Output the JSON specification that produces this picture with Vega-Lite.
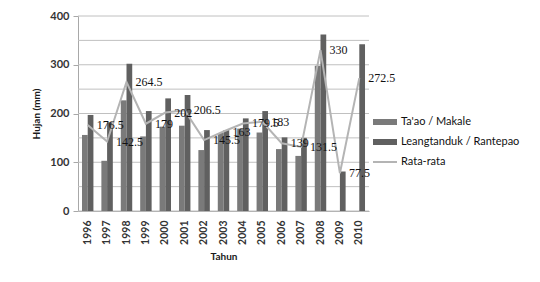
{
  "$schema": "https://vega.github.io/schema/vega-lite/v6.json",
  "width": 291,
  "height": 195,
  "autosize": {"type": "none"},
  "padding": {"left": 78, "top": 16, "right": 171, "bottom": 71},
  "background": "white",
  "config": {
    "view": {"stroke": null},
    "axis": {
      "labelFont": "Lato",
      "labelFontWeight": "bold",
      "labelFontSize": 11,
      "labelColor": "#333333",
      "titleFont": "Lato",
      "titleFontWeight": "bold",
      "titleFontSize": 10,
      "titleColor": "#1a1a1a",
      "domainColor": "#a8a8a8",
      "tickColor": "#a8a8a8",
      "gridColor": "#c0c0c0",
      "labelFlush": false
    },
    "axisY": {"tickCount": 8, "labelOverlap": false}
  },
  "datasets": {
    "grid": [
      {"v": 0}, {"v": 50}, {"v": 100}, {"v": 150}, {"v": 200},
      {"v": 250}, {"v": 300}, {"v": 350}, {"v": 400}
    ],
    "bars": [
      {"year": 1996, "series": "Ta'ao / Makale", "value": 156},
      {"year": 1996, "series": "Leangtanduk / Rantepao", "value": 197},
      {"year": 1997, "series": "Ta'ao / Makale", "value": 103},
      {"year": 1997, "series": "Leangtanduk / Rantepao", "value": 182},
      {"year": 1998, "series": "Ta'ao / Makale", "value": 227},
      {"year": 1998, "series": "Leangtanduk / Rantepao", "value": 302},
      {"year": 1999, "series": "Ta'ao / Makale", "value": 153},
      {"year": 1999, "series": "Leangtanduk / Rantepao", "value": 205},
      {"year": 2000, "series": "Ta'ao / Makale", "value": 173},
      {"year": 2000, "series": "Leangtanduk / Rantepao", "value": 231},
      {"year": 2001, "series": "Ta'ao / Makale", "value": 175},
      {"year": 2001, "series": "Leangtanduk / Rantepao", "value": 238},
      {"year": 2002, "series": "Ta'ao / Makale", "value": 125},
      {"year": 2002, "series": "Leangtanduk / Rantepao", "value": 166},
      {"year": 2003, "series": "Ta'ao / Makale", "value": 160},
      {"year": 2003, "series": "Leangtanduk / Rantepao", "value": 166},
      {"year": 2004, "series": "Ta'ao / Makale", "value": 169},
      {"year": 2004, "series": "Leangtanduk / Rantepao", "value": 190},
      {"year": 2005, "series": "Ta'ao / Makale", "value": 161},
      {"year": 2005, "series": "Leangtanduk / Rantepao", "value": 205},
      {"year": 2006, "series": "Ta'ao / Makale", "value": 127},
      {"year": 2006, "series": "Leangtanduk / Rantepao", "value": 151},
      {"year": 2007, "series": "Ta'ao / Makale", "value": 113},
      {"year": 2007, "series": "Leangtanduk / Rantepao", "value": 150},
      {"year": 2008, "series": "Ta'ao / Makale", "value": 298},
      {"year": 2008, "series": "Leangtanduk / Rantepao", "value": 362},
      {"year": 2009, "series": "Leangtanduk / Rantepao", "value": 81},
      {"year": 2010, "series": "Leangtanduk / Rantepao", "value": 342}
    ],
    "avg": [
      {"year": 1996, "avg": 176.5},
      {"year": 1997, "avg": 142.5},
      {"year": 1998, "avg": 264.5},
      {"year": 1999, "avg": 179},
      {"year": 2000, "avg": 202},
      {"year": 2001, "avg": 206.5},
      {"year": 2002, "avg": 145.5},
      {"year": 2003, "avg": 163},
      {"year": 2004, "avg": 179.5},
      {"year": 2005, "avg": 183},
      {"year": 2006, "avg": 139},
      {"year": 2007, "avg": 131.5},
      {"year": 2008, "avg": 330},
      {"year": 2009, "avg": 77.5},
      {"year": 2010, "avg": 272.5}
    ]
  },
  "layer": [
    {
      "data": {"name": "grid"},
      "mark": {"type": "rule", "color": "#c0c0c0", "strokeWidth": 1},
      "encoding": {
        "y": {
          "field": "v",
          "type": "quantitative",
          "title": "Hujan (mm)",
          "scale": {"domain": [0, 400], "nice": false},
          "axis": {"values": [0, 50, 100, 150, 200, 250, 300, 350, 400], "tickCount": 8, "labelOverlap": false, "tickSize": 5, "labelPadding": 4, "titlePadding": 8, "grid": false}
        }
      }
    },
    {
      "data": {"name": "bars"},
      "mark": {"type": "bar"},
      "encoding": {
        "x": {
          "field": "year",
          "type": "nominal",
          "title": "Tahun",
          "scale": {"paddingInner": 0.41, "paddingOuter": 0.205},
          "axis": {"labelAngle": -90, "ticks": false, "labelPadding": 9, "titlePadding": 7, "labelAlign": "right", "labelBaseline": "middle", "labelFontSize": 10.5}
        },
        "xOffset": {
          "field": "series",
          "type": "nominal",
          "scale": {"domain": ["Ta'ao / Makale", "Leangtanduk / Rantepao"], "paddingInner": 0, "paddingOuter": 0}
        },
        "y": {
          "field": "value",
          "type": "quantitative",
          "stack": null
        },
        "color": {
          "field": "series",
          "type": "nominal",
          "scale": {"domain": ["Ta'ao / Makale", "Leangtanduk / Rantepao", "Rata-rata"], "range": ["#7a7a7a", "#606060", "#b4b4b4"]},
          "legend": {
            "title": null,
            "orient": "none",
            "legendX": 295,
            "legendY": 99,
            "padding": 0,
            "symbolSize": 576,
            "clipHeight": 14,
            "rowPadding": 6,
            "labelFont": "Lato",
            "labelFontSize": 11,
            "labelColor": "#111111",
            "labelOffset": 4,
            "encode": {
              "symbols": {
                "update": {
                  "shape": {"signal": "datum.value === 'Rata-rata' ? 'M-1,-0.08H1V0.08H-1Z' : 'M-1,-0.25H1V0.25H-1Z'"},
                  "fill": {"signal": "scale('color', datum.value)"},
                  "stroke": {"value": "transparent"},
                  "strokeWidth": {"value": 0},
                  "opacity": {"value": 1}
                }
              }
            }
          }
        }
      }
    },
    {
      "data": {"name": "avg"},
      "mark": {"type": "line", "strokeWidth": 2},
      "encoding": {
        "x": {"field": "year", "type": "nominal"},
        "y": {"field": "avg", "type": "quantitative"},
        "color": {"datum": "Rata-rata"}
      }
    },
    {
      "data": {"name": "avg"},
      "mark": {"type": "text", "align": "left", "baseline": "middle", "dx": 9, "font": "Liberation Serif", "fontSize": 12, "color": "#111111"},
      "encoding": {
        "x": {"field": "year", "type": "nominal"},
        "y": {"field": "avg", "type": "quantitative"},
        "text": {"field": "avg", "type": "nominal"}
      }
    }
  ]
}
